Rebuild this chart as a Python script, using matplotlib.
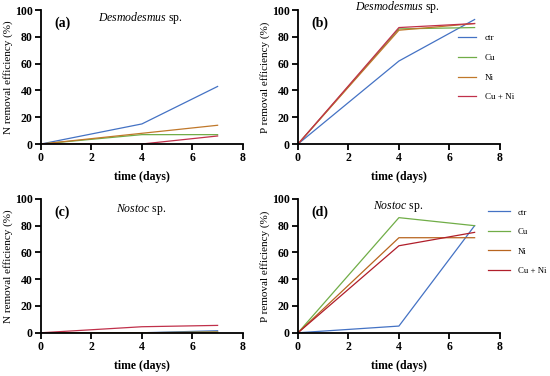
import matplotlib.pyplot as plt

days = [0, 4, 7]
labels = ["ctr", "Cu", "Ni", "Cu + Ni"]
colors = ["#4472C4", "#70AD47", "#C0782A", "#C0304A"]
colors_d = ["#4472C4", "#70AD47", "#B8651F", "#B01E2A"]

# N / P removal efficiency (%) for each treatment
desmo_N = {"ctr": [0, 15, 43], "Cu": [0, 7, 7], "Ni": [0, 8, 14], "Cu + Ni": [0, 0, 6]}
desmo_P = {"ctr": [0, 62, 93], "Cu": [0, 86, 87], "Ni": [0, 85, 90], "Cu + Ni": [0, 87, 90]}
nostoc_N = {"ctr": [0, 0, 1.5], "Cu": [0, 0, 0.5], "Ni": [0, 0, 0.5], "Cu + Ni": [0, 4.5, 5.5]}
nostoc_P = {"ctr": [0, 5, 80], "Cu": [0, 86, 80], "Ni": [0, 71, 71], "Cu + Ni": [0, 65, 75]}

plt.rcParams['font.family'] = 'Liberation Serif'
plt.rcParams['mathtext.fontset'] = 'custom'
plt.rcParams['mathtext.it'] = 'Liberation Serif:italic'
plt.rcParams['mathtext.rm'] = 'Liberation Serif'

fig = plt.figure(figsize=(5.5, 3.76), dpi=100)
w, h = 0.367, 0.356
axes = {
    "a": fig.add_axes([0.0745, 0.617, w, h]),
    "b": fig.add_axes([0.5418, 0.617, w, h]),
    "c": fig.add_axes([0.0745, 0.115, w, h]),
    "d": fig.add_axes([0.5418, 0.115, w, h]),
}

panels = [
    ("a", desmo_N, colors, "N removal efficiency (%)", "Desmodesmus", 94),
    ("b", desmo_P, colors, "P removal efficiency (%)", "Desmodesmus", 102),
    ("c", nostoc_N, colors, "N removal efficiency (%)", "Nostoc", 92),
    ("d", nostoc_P, colors_d, "P removal efficiency (%)", "Nostoc", 94),
]

for key, data, cols, ylab, genus, ty in panels:
    ax = axes[key]
    for lab, c in zip(labels, cols):
        ax.plot(days, data[lab], color=c, lw=0.9, label=lab)
    ax.set_xlim(0, 8)
    ax.set_ylim(0, 100)
    ax.set_xticks([0, 2, 4, 6, 8])
    ax.set_yticks([0, 20, 40, 60, 80, 100])
    for s in ["top", "right"]:
        ax.spines[s].set_visible(False)
    for s in ["left", "bottom"]:
        ax.spines[s].set_linewidth(1.3)
    ax.tick_params(width=1.3, length=4, labelsize=8.5, pad=2)
    for t in ax.get_xticklabels() + ax.get_yticklabels():
        t.set_fontweight("bold")
    ax.set_xlabel("time (days)", fontsize=8.5, fontweight="bold", labelpad=5)
    ax.set_ylabel(ylab, fontsize=8.0, labelpad=1)
    ax.text(0.55, 90, "(%s)" % key, fontsize=10, fontweight="bold", va="center")
    ax.text(3.95, ty, r"$\mathit{%s}$ sp." % genus, fontsize=8.5, ha="center",
            va="center", clip_on=False)

axes["b"].legend(loc="center left", bbox_to_anchor=(0.77, 0.57), frameon=False,
                 fontsize=6.5, handlelength=2.0, labelspacing=1.25, borderpad=0,
                 handletextpad=1.0)
axes["d"].legend(loc="center left", bbox_to_anchor=(0.92, 0.68), frameon=False,
                 fontsize=6.3, handlelength=2.5, labelspacing=1.3, borderpad=0,
                 handletextpad=0.9)

plt.savefig("out.png", dpi=100)
